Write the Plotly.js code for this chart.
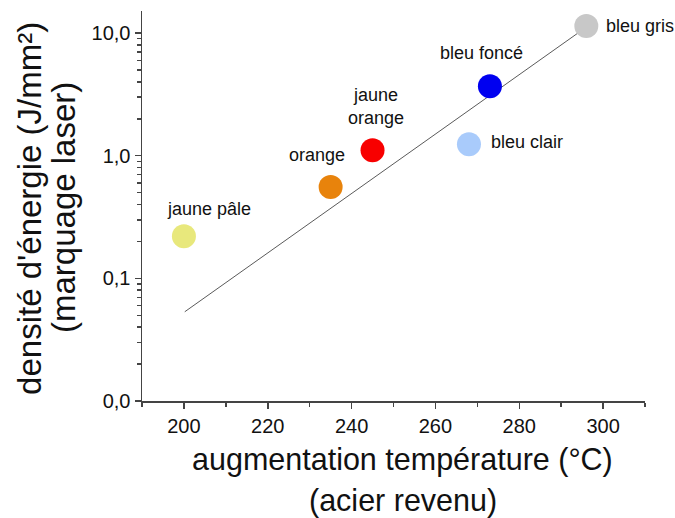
<!DOCTYPE html>
<html><head><meta charset="utf-8">
<script src="https://cdn.plot.ly/plotly-3.0.1.min.js"></script>
<style>body{margin:0;background:#fff}#c{width:675px;height:518px}</style>
</head><body><div id="c"></div>
<script>
const labels = ["jaune pâle", "orange", "jaune<br>orange", "bleu clair", "bleu foncé", "bleu gris"];
const temps = [200, 235, 245, 268, 273, 296];
const energy = [0.22, 0.555, 1.11, 1.24, 3.69, 11.4];
const colors = ["#e8e87c", "#e8830c", "#f80000", "#a9cbfb", "#0000f0", "#c8c8c8"];
const fitX = [200.2, 295.7];
const fitY = [0.0534, 11.0];
const yTickVals = [0.01, 0.1, 1, 10];
const yTickText = ["0,0", "0,1", "1,0", "10,0"];
const yMinor = [];
[0.01, 0.1, 1, 10].forEach(d => { for (let k = 2; k <= 9; k++) yMinor.push(d * k); });
const xTickVals = [200, 220, 240, 260, 280, 300];
const xMinor = [190, 210, 230, 250, 270, 290, 310];
const xTitle = ["augmentation température (°C)", "(acier revenu)"];
const yTitle = ["densité d'énergie (J/mm²)", "(marquage laser)"];

// label placement style (pixel offsets relative to each marker)
const labelStyle = [
  {xanchor: "center", xshift: 25, yshift: 27},
  {xanchor: "center", xshift: -14, yshift: 32},
  {xanchor: "center", xshift: 3, yshift: 44},
  {xanchor: "left", xshift: 20, yshift: 2},
  {xanchor: "center", xshift: -8, yshift: 33},
  {xanchor: "left", xshift: 18, yshift: 0}
];
const FONT = "'Liberation Sans', Arial, Helvetica, sans-serif";

const fitTrace = {x: fitX, y: fitY, mode: "lines", line: {color: "#5a5a5a", width: 1}, hoverinfo: "skip"};
const ptTrace = {
  x: temps, y: energy, mode: "markers", cliponaxis: false,
  marker: {size: 24, color: colors, line: {width: 0}}
};
const labelAnns = labels.map((t, i) => Object.assign({
  text: t, x: temps[i], y: Math.log10(energy[i]), xref: "x", yref: "y",
  yanchor: "middle", showarrow: false, font: {family: FONT, size: 18, color: "#111"}
}, labelStyle[i]));
const titleAnns = [
  {text: xTitle[0], x: 0.518, y: -0.149, xanchor: "center", yanchor: "middle", font: {size: 30.5}},
  {text: xTitle[1], x: 0.518, y: -0.254, xanchor: "center", yanchor: "middle", font: {size: 30.5}},
  {text: yTitle[0], x: -0.2227, y: 0.495, xanchor: "center", yanchor: "middle", textangle: -90, font: {size: 33}},
  {text: yTitle[1], x: -0.155, y: 0.495, xanchor: "center", yanchor: "middle", textangle: -90, font: {size: 33}}
].map(a => Object.assign({xref: "paper", yref: "paper", showarrow: false}, a));

const layout = {
  width: 675, height: 518, showlegend: false,
  margin: {l: 142, r: 30, t: 11, b: 117},
  paper_bgcolor: "#fff", plot_bgcolor: "#fff",
  font: {family: FONT, color: "#111"},
  xaxis: {range: [190, 310], tickvals: xTickVals, ticks: "outside", ticklen: 6, tickwidth: 1.5, tickcolor: "#444",
    showline: true, linecolor: "#444", linewidth: 1.5, showgrid: false, zeroline: false,
    tickfont: {size: 20}, minor: {tickvals: xMinor, ticks: "outside", ticklen: 4, tickcolor: "#444", showgrid: false}},
  yaxis: {type: "log", range: [-2, 1.18], tickvals: yTickVals, ticktext: yTickText, ticks: "outside", ticklen: 6, tickwidth: 1.5, tickcolor: "#444",
    showline: true, linecolor: "#444", linewidth: 1.5, showgrid: false, zeroline: false,
    tickfont: {size: 20}, minor: {tickvals: yMinor, ticks: "outside", ticklen: 4, tickcolor: "#444", showgrid: false}},
  annotations: labelAnns.concat(titleAnns)
};
Plotly.newPlot("c", [fitTrace, ptTrace], layout, {displayModeBar: false, staticPlot: true});
</script></body></html>
